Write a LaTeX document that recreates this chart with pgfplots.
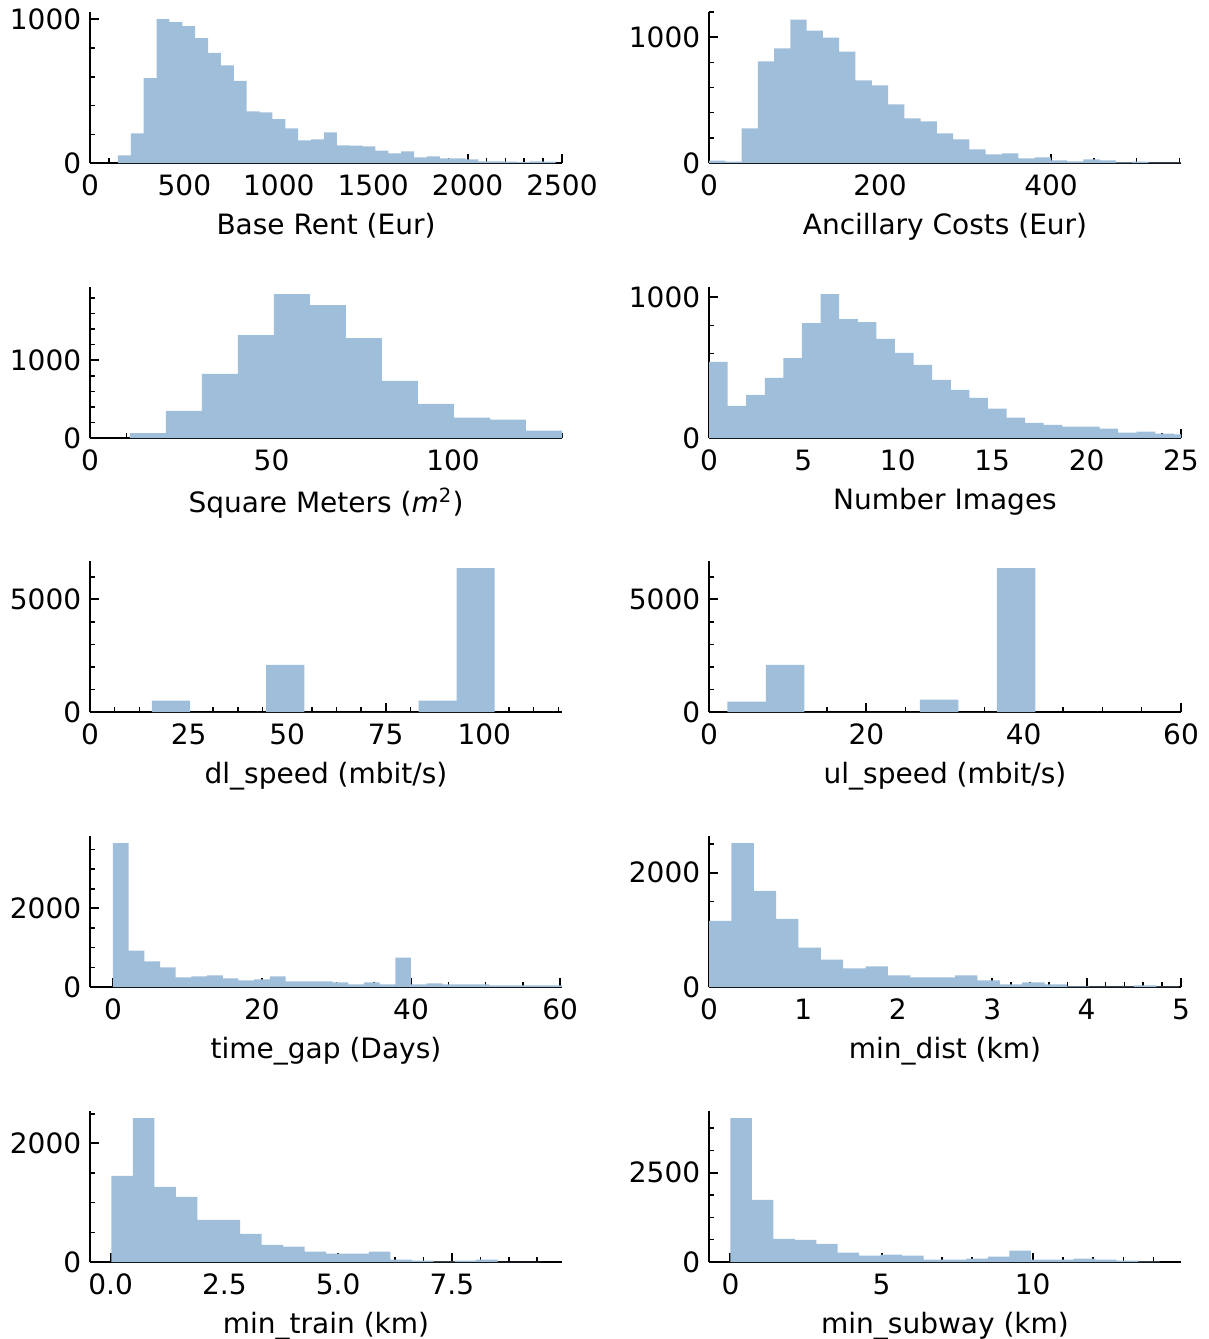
\documentclass[border=0pt]{standalone}
\usepackage{fontspec}
\setmainfont{DejaVu Sans}
\usepackage{pgfplots}
\pgfplotsset{compat=1.18}
\definecolor{barblue}{RGB}{159,190,218}

% one histogram panel, sizes from the 1209x1339 px reference at 0.4pt/px
\pgfplotsset{
  hist/.style={
    scale only axis, width=188.8pt, height=60.4pt,
    anchor=south west,
    axis x line=bottom, axis y line=left,
    axis line style={-, line width=0.8pt, black},
    tick align=inside,
    major tick length=3.5pt, minor tick length=2pt,
    major tick style={black, line width=0.8pt},
    minor tick style={black, line width=0.6pt},
    tick label style={font=\fontsize{11.2}{13}\selectfont},
    xticklabel style={yshift=-1.2pt},
    label style={font=\fontsize{11.2}{13}\selectfont},
    /pgf/number format/assume math mode=true,
    /pgf/number format/1000 sep={},
    scaled ticks=false,
    ymin=0,
  },
  bars/.style={ybar interval, fill=barblue, draw=none},
}

\begin{document}
\begin{tikzpicture}
\useasboundingbox (0,0) rectangle (483.6pt,-535.6pt);

% row 1
\begin{axis}[hist, at={(36pt,-65.2pt)},
  xmin=0, xmax=2500, ymax=1052,
  xtick={0,500,...,2500}, minor xtick={0,100,...,2500},
  ytick={0,1000}, minor ytick={0,200,...,1000},
  xlabel={Base Rent (Eur)}]
\addplot[bars] coordinates {(148,53) (216.2,207) (284.4,591) (352.6,1002) (420.8,981) (489,953) (557.2,870) (625.4,767) (693.6,681) (761.8,572) (830,360) (898.2,353) (966.4,305) (1034.6,242) (1102.8,158) (1171,165) (1239.2,214) (1307.4,123) (1375.6,121) (1443.8,116) (1512,86) (1580.2,67) (1648.4,81) (1716.6,40) (1784.8,47) (1853,33) (1921.2,33) (1989.4,26) (2057.6,12) (2125.8,12) (2194,9) (2262.2,7) (2330.4,12) (2398.6,9) (2466.8,0)};
\end{axis}

\begin{axis}[hist, at={(283.6pt,-65.2pt)},
  xmin=0, xmax=552, ymax=1200,
  xtick={0,200,400}, minor xtick={0,50,...,550},
  ytick={0,1000}, minor ytick={0,200,...,1200},
  xlabel={Ancillary Costs (Eur)}]
\addplot[bars] coordinates {(0,18) (19.03,11) (38.07,275) (57.10,807) (76.14,910) (95.17,1140) (114.21,1053) (133.24,997) (152.28,886) (171.31,656) (190.34,616) (209.38,466) (228.41,354) (247.45,331) (266.48,235) (285.52,188) (304.55,108) (323.59,69) (342.62,77) (361.66,37) (380.69,45) (399.72,21) (418.76,13) (437.79,29) (456.83,21) (475.86,5) (494.90,11) (513.93,3) (532.97,3) (552,0)};
\end{axis}

% row 2
\begin{axis}[hist, at={(36pt,-175.2pt)},
  xmin=0, xmax=130, ymax=1943,
  xtick={0,50,100}, minor xtick={0,10,...,130},
  ytick={0,1000}, minor ytick={0,200,...,1800},
  xlabel={Square Meters (\textit{m}\textsuperscript{2})}]
\addplot[bars] coordinates {(11,64) (20.92,350) (30.83,825) (40.75,1325) (50.67,1850) (60.58,1709) (70.5,1286) (80.42,735) (90.33,440) (100.25,261) (110.17,235) (120.08,94) (130,0)};
\end{axis}

\begin{axis}[hist, at={(283.6pt,-175.2pt)},
  xmin=0, xmax=25, ymax=1072,
  xtick={0,5,...,25}, minor xtick={0,1,...,25},
  ytick={0,1000}, minor ytick={0,200,...,1000},
  xlabel={Number Images}]
\addplot[bars] coordinates {(0,540) (0.985,229) (1.97,307) (2.955,427) (3.94,568) (4.925,816) (5.91,1021) (6.895,844) (7.88,823) (8.865,703) (9.85,604) (10.835,519) (11.82,413) (12.805,342) (13.79,285) (14.775,208) (15.76,144) (16.745,108) (17.73,94) (18.715,80) (19.7,80) (20.685,66) (21.67,38) (22.655,45) (23.64,31) (24.625,26) (25,0)};
\end{axis}

% row 3
\begin{axis}[hist, at={(36pt,-284.8pt)},
  xmin=0, xmax=119.7, ymax=6705,
  xtick={0,25,...,100}, minor xtick={0,6.25,...,118.75},
  ytick={0,5000}, minor ytick={0,1000,...,6000},
  xlabel={dl\_speed (mbit/s)}]
\addplot[bars] coordinates {(15.7,501) (25.36,0) (35.02,0) (44.68,2094) (54.34,0) (64.0,0) (73.66,0) (83.32,501) (92.98,6386) (102.64,0)};
\end{axis}

\begin{axis}[hist, at={(283.6pt,-284.8pt)},
  xmin=0, xmax=60, ymax=6705,
  xtick={0,20,40,60}, minor xtick={0,5,...,60},
  ytick={0,5000}, minor ytick={0,1000,...,6000},
  xlabel={ul\_speed (mbit/s)}]
\addplot[bars] coordinates {(2.32,457) (7.22,2094) (12.11,0) (17.0,0) (21.9,0) (26.8,546) (31.7,0) (36.6,6386) (41.5,0)};
\end{axis}

% row 4
\begin{axis}[hist, at={(36pt,-394.8pt)},
  xmin=-3.08, xmax=60.26, ymax=3845,
  xtick={0,20,40,60}, minor xtick={0,5,...,60},
  ytick={0,2000}, minor ytick={0,500,...,3500},
  xlabel={time\_gap (Days)}]
\addplot[bars] coordinates {(0,3662) (2.105,928) (4.21,650) (6.315,498) (8.42,245) (10.525,270) (12.63,295) (14.735,219) (16.84,169) (18.945,194) (21.05,270) (23.155,143) (25.26,143) (27.365,143) (29.47,118) (31.575,68) (33.68,118) (35.785,68) (37.89,751) (39.995,68) (42.1,93) (44.205,68) (46.31,68) (48.415,68) (50.52,42) (52.625,42) (54.73,42) (56.835,42) (58.94,42) (60.26,0)};
\end{axis}

\begin{axis}[hist, at={(283.6pt,-394.8pt)},
  xmin=0, xmax=5, ymax=2642,
  xtick={0,1,...,5}, minor xtick={0,0.2,...,5},
  ytick={0,2000}, minor ytick={0,500,...,2500},
  xlabel={min\_dist (km)}]
\addplot[bars] coordinates {(0,1159) (0.237,2516) (0.474,1681) (0.711,1194) (0.948,690) (1.185,481) (1.422,325) (1.659,359) (1.896,203) (2.133,168) (2.37,168) (2.607,203) (2.844,116) (3.081,46) (3.318,81) (3.555,46) (3.792,12) (4.029,6) (4.266,6) (4.503,29) (4.74,6) (4.977,0)};
\end{axis}

% row 5
\begin{axis}[hist, at={(36pt,-504.8pt)},
  xmin=-0.455, xmax=9.92, ymax=2547,
  xtick={0,2.5,5,7.5}, xticklabels={0.0,2.5,5.0,7.5},
  minor xtick={0,0.625,...,9.375},
  ytick={0,2000}, minor ytick={0,500,...,2500},
  xlabel={min\_train (km)}]
\addplot[bars] coordinates {(0.017,1451) (0.489,2426) (0.960,1266) (1.432,1098) (1.903,711) (2.375,711) (2.847,476) (3.318,291) (3.790,258) (4.261,174) (4.733,140) (5.205,140) (5.676,174) (6.148,39) (6.619,22) (7.091,5) (7.563,22) (8.034,39) (8.506,2) (8.977,2) (9.449,0)};
\end{axis}

\begin{axis}[hist, at={(283.6pt,-504.8pt)},
  xmin=-0.71, xmax=14.91, ymax=4225,
  xtick={0,5,10}, minor xtick={0,1,...,14},
  ytick={0,2500}, minor ytick={0,625,...,3750},
  xlabel={min\_subway (km)}]
\addplot[bars] coordinates {(0,4024) (0.71,1738) (1.42,651) (2.13,623) (2.84,511) (3.55,260) (4.26,177) (4.97,204) (5.68,177) (6.39,65) (7.10,65) (7.81,93) (8.52,149) (9.23,316) (9.94,65) (10.65,65) (11.36,93) (12.07,65) (12.78,37) (13.49,10) (14.2,0)};
\end{axis}

\end{tikzpicture}
\end{document}
